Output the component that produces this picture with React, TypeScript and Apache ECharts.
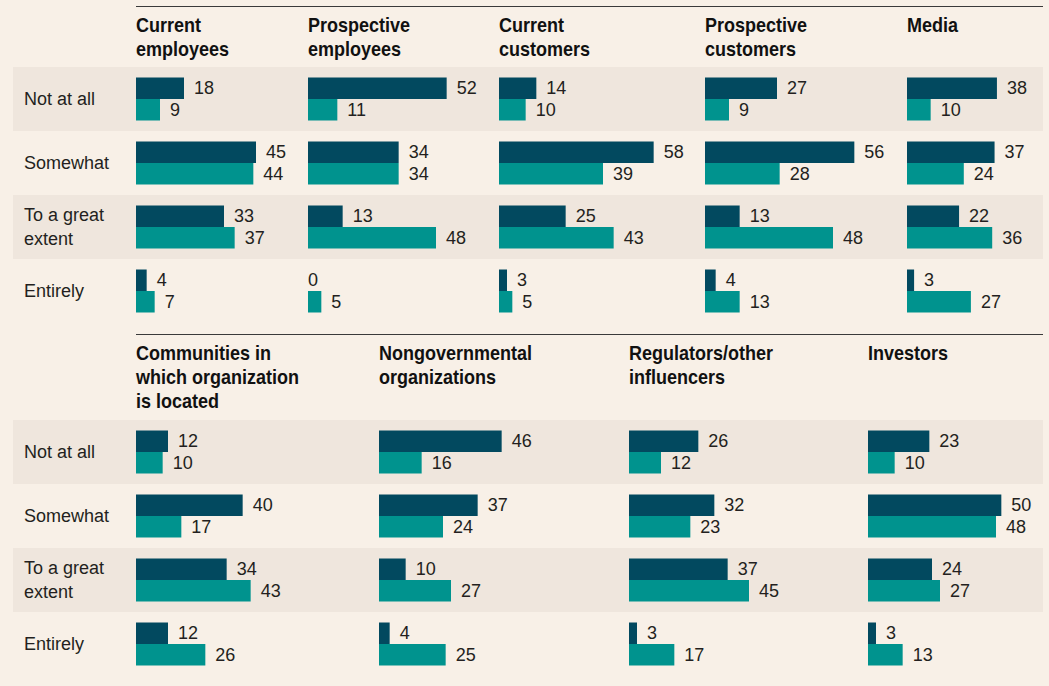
import React, { useEffect, useRef } from "react";
import * as echarts from "echarts";

const categories = ["Not at all", "Somewhat", "To a great\nextent", "Entirely"];

const topPanels = [
  "Current\nemployees",
  "Prospective\nemployees",
  "Current\ncustomers",
  "Prospective\ncustomers",
  "Media",
];
const topDark = [
  [18, 45, 33, 4],
  [52, 34, 13, 0],
  [14, 58, 25, 3],
  [27, 56, 13, 4],
  [38, 37, 22, 3],
];
const topTeal = [
  [9, 44, 37, 7],
  [11, 34, 48, 5],
  [10, 39, 43, 5],
  [9, 28, 48, 13],
  [10, 24, 36, 27],
];

const bottomPanels = [
  "Communities in\nwhich organization\nis located",
  "Nongovernmental\norganizations",
  "Regulators/other\ninfluencers",
  "Investors",
];
const bottomDark = [
  [12, 40, 34, 12],
  [46, 37, 10, 4],
  [26, 32, 37, 3],
  [23, 50, 24, 3],
];
const bottomTeal = [
  [10, 17, 43, 26],
  [16, 24, 27, 25],
  [12, 23, 45, 17],
  [10, 48, 27, 13],
];

const FONT = '"Liberation Sans", Arial, sans-serif';
const BG = "#f8f0e7";
const BAND = "#efe6dd";
const DARK = "#02495f";
const TEAL = "#00938e";
const TEXT = "#231f20";

const topLefts = [136, 308, 499, 705, 907];
const bottomLefts = [136, 379, 629, 868];
const SECTION_TOP = [67, 420];
const TITLE_TOP = [13, 341];
const RULE_Y = [6, 334];
const PANEL_W = 160;
const AXIS_MAX = 60;

export default function App() {
  const ref = useRef<HTMLDivElement>(null);
  useEffect(() => {
    document.body.style.margin = "0";
    document.body.style.background = BG;
    const chart = echarts.init(ref.current!, null, { renderer: "svg" });

    const grids: any[] = [];
    const xAxes: any[] = [];
    const yAxes: any[] = [];
    const series: any[] = [];
    const graphics: any[] = [];

    // background band grids with row labels
    SECTION_TOP.forEach((top) => {
      const gi = grids.length;
      grids.push({ left: 13, top, width: 1030, height: 256 });
      xAxes.push({ gridIndex: gi, type: "value", show: false, min: 0, max: 1 });
      yAxes.push({
        gridIndex: gi,
        type: "category",
        data: categories,
        inverse: true,
        axisLine: { show: false },
        axisTick: { show: false },
        axisLabel: {
          inside: true,
          margin: 11,
          align: "left",
          fontFamily: FONT,
          fontSize: 18,
          lineHeight: 24,
          color: TEXT,
        },
        splitLine: { show: false },
        splitArea: {
          show: true,
          interval: 0,
          areaStyle: { color: [BAND, "rgba(0,0,0,0)"] },
        },
      });
    });

    const addSection = (
      lefts: number[],
      names: string[],
      dark: number[][],
      teal: number[][],
      s: number
    ) => {
      lefts.forEach((left, i) => {
        const gi = grids.length;
        grids.push({ left, top: SECTION_TOP[s], width: PANEL_W, height: 256 });
        xAxes.push({ gridIndex: gi, type: "value", min: 0, max: AXIS_MAX, show: false });
        yAxes.push({
          gridIndex: gi,
          type: "category",
          data: categories,
          inverse: true,
          show: false,
        });
        graphics.push({
          type: "text",
          x: left,
          y: TITLE_TOP[s],
          scaleX: 0.9,
          style: {
            text: names[i],
            fontFamily: FONT,
            fontWeight: "bold",
            fontSize: 20,
            lineHeight: 24,
            fill: "#111",
            verticalAlign: "top",
            align: "left",
          },
        });
        const mk = (vals: number[], color: string) => ({
          type: "bar",
          xAxisIndex: gi,
          yAxisIndex: gi,
          barWidth: 21.5,
          barGap: "0%",
          itemStyle: { color },
          label: {
            show: true,
            position: "right",
            distance: 10,
            fontFamily: FONT,
            fontSize: 18,
            color: TEXT,
          },
          data: vals.map((v) =>
            v === 0 ? { value: v, label: { distance: 0 } } : v
          ),
        });
        series.push(mk(dark[i], DARK));
        series.push(mk(teal[i], TEAL));
      });
    };
    addSection(topLefts, topPanels, topDark, topTeal, 0);
    addSection(bottomLefts, bottomPanels, bottomDark, bottomTeal, 1);

    RULE_Y.forEach((y) =>
      graphics.push({
        type: "line",
        shape: { x1: 136, y1: y + 0.5, x2: 1043, y2: y + 0.5 },
        style: { stroke: "#3a3a3a", lineWidth: 1 },
      })
    );

    chart.setOption({
      animation: false,
      backgroundColor: BG,
      grid: grids,
      xAxis: xAxes,
      yAxis: yAxes,
      series,
      graphic: graphics,
    });
    return () => chart.dispose();
  }, []);
  return <div ref={ref} style={{ width: 1049, height: 686, background: BG }} />;
}
